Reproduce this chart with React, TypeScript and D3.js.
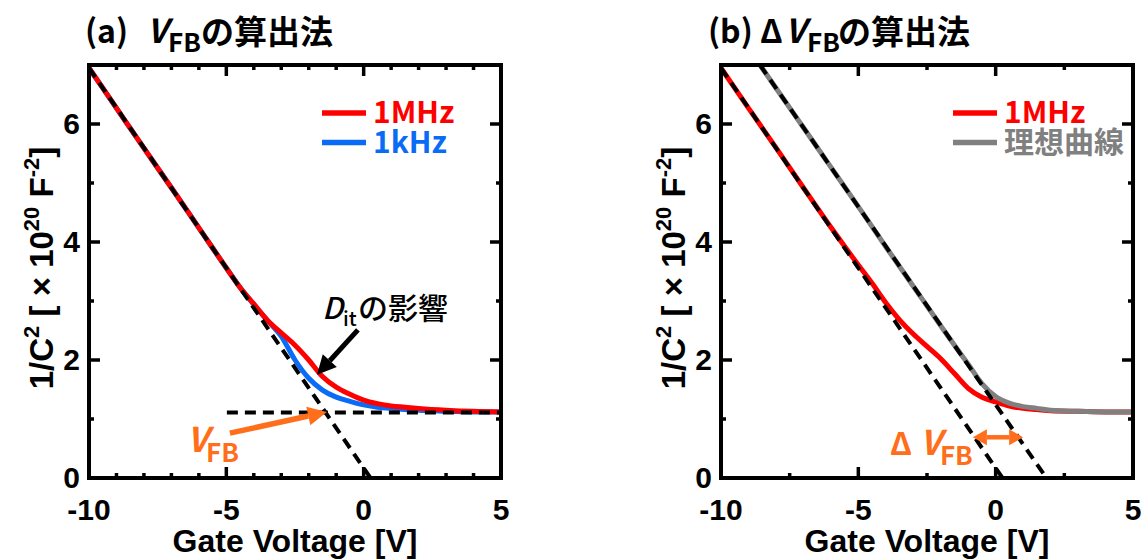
import * as d3 from "d3";

// Gate voltage grid shared by the measured curves
const VOLTS = [-10, -9, -8, -7, -6, -5, -4.5, -4, -3.5, -3, -2.5, -2, -1.5, -1, -0.5, 0, 0.5, 1, 1.5, 2, 3, 4, 5];

// (a) 1/C^2 [x1e20 F^-2]
const A_1MHZ = [6.95, 6.27, 5.59, 4.92, 4.24, 3.56, 3.23, 2.95, 2.67, 2.46, 2.25, 2.0, 1.72, 1.54, 1.42, 1.32, 1.26, 1.22, 1.2, 1.18, 1.15, 1.13, 1.12];
const A_1KHZ = [6.95, 6.27, 5.59, 4.92, 4.24, 3.56, 3.23, 2.94, 2.67, 2.4, 2.0, 1.69, 1.49, 1.37, 1.3, 1.24, 1.2, 1.18, 1.16, 1.15, 1.13, 1.12, 1.12];

// (b)
const B_1MHZ = [6.95, 6.27, 5.6, 4.92, 4.25, 3.61, 3.3, 2.97, 2.68, 2.44, 2.23, 2.02, 1.77, 1.52, 1.37, 1.29, 1.22, 1.18, 1.16, 1.14, 1.13, 1.12, 1.12];
const IDEAL_VOLTS = [-8.58, -8, -7, -6, -5, -4, -3, -2, -1.5, -1, -0.5, 0, 0.5, 1, 1.5, 2, 3, 4, 5];
const B_IDEAL = [7, 6.61, 5.94, 5.27, 4.6, 3.92, 3.25, 2.58, 2.25, 1.93, 1.6, 1.38, 1.27, 1.21, 1.18, 1.15, 1.13, 1.12, 1.12];

// fitted straight lines [[x0, y0], [x1, y1]]
const FIT_MEASURED: [number, number][] = [[-10, 6.95], [0.25, 0]];
const FIT_IDEAL: [number, number][] = [[-8.58, 7], [1.85, 0]];
const FLATBAND: [number, number][] = [[-4.98, 1.11], [5, 1.11]];

const X_TICKS = [-10, -5, 0, 5];
const Y_TICKS = [0, 2, 4, 6];
const Y_MINOR = [1, 3, 5];
const A_X_MINOR = [-9, -8, -7, -6, -4, -3, -2, -1, 1, 2, 3, 4];
const B_X_MINOR = [-7.5, -2.5, 2.5];

const RED = "#ff0000";
const BLUE = "#0a6cf5";
const GRAY = "#808080";
const ORANGE = "#ff6e1a";
const JP = "'Noto Sans CJK JP', 'Noto Sans', sans-serif";
const AR = "'Liberation Sans', Arial, sans-serif";

const W = 1148;
const H = 559;
const y = d3.scaleLinear().domain([0, 7]).range([478, 65]);

type Series = { xs: number[]; ys: number[]; color: string };

function arrowHead(x1: number, y1: number, x2: number, y2: number, len: number, half: number) {
  const a = Math.atan2(y2 - y1, x2 - x1);
  const bx = x2 - len * Math.cos(a);
  const by = y2 - len * Math.sin(a);
  const px = -Math.sin(a) * half;
  const py = Math.cos(a) * half;
  return {
    base: [bx, by] as [number, number],
    points: `${x2},${y2} ${bx + px},${by + py} ${bx - px},${by - py}`,
  };
}

function Arrow({ from, to, color, width, len, half, both }: {
  from: [number, number]; to: [number, number]; color: string; width: number; len: number; half: number; both?: boolean;
}) {
  const h1 = arrowHead(from[0], from[1], to[0], to[1], len, half);
  const h0 = arrowHead(to[0], to[1], from[0], from[1], len, half);
  const start = both ? h0.base : from;
  return (
    <g>
      <line x1={start[0]} y1={start[1]} x2={h1.base[0]} y2={h1.base[1]} stroke={color} strokeWidth={width} />
      <polygon points={h1.points} fill={color} />
      {both && <polygon points={h0.points} fill={color} />}
    </g>
  );
}

function Frame({ x, minor, id }: { x: d3.ScaleLinear<number, number>; minor: number[]; id: string }) {
  const [x0, x1] = x.range();
  const [yb, yt] = y.range();
  const major = 11;
  const small = 5;
  return (
    <g stroke="#000" strokeWidth={3.5}>
      {X_TICKS.map((t) => (
        <g key={id + "xM" + t}>
          <line x1={x(t)} x2={x(t)} y1={yb} y2={yb - major} />
          <line x1={x(t)} x2={x(t)} y1={yt} y2={yt + major} />
        </g>
      ))}
      {minor.map((t) => (
        <g key={id + "xm" + t}>
          <line x1={x(t)} x2={x(t)} y1={yb} y2={yb - small} />
          <line x1={x(t)} x2={x(t)} y1={yt} y2={yt + small} />
        </g>
      ))}
      {Y_TICKS.map((t) => (
        <g key={id + "yM" + t}>
          <line x1={x0} x2={x0 + major} y1={y(t)} y2={y(t)} />
          <line x1={x1} x2={x1 - major} y1={y(t)} y2={y(t)} />
        </g>
      ))}
      {Y_MINOR.map((t) => (
        <g key={id + "ym" + t}>
          <line x1={x0} x2={x0 + small} y1={y(t)} y2={y(t)} />
          <line x1={x1} x2={x1 - small} y1={y(t)} y2={y(t)} />
        </g>
      ))}
      <rect x={x0} y={yt} width={x1 - x0} height={yb - yt} fill="none" strokeWidth={4} />
    </g>
  );
}

function TickLabels({ x }: { x: d3.ScaleLinear<number, number> }) {
  const [x0, x1] = x.range();
  return (
    <g fontFamily={AR} fontWeight={700} fontSize={30} fill="#000">
      {X_TICKS.map((t) => (
        <text key={"xl" + t} x={x(t)} y={520} textAnchor="middle">{t}</text>
      ))}
      {Y_TICKS.map((t) => (
        <text key={"yl" + t} x={x0 - 9} y={y(t) + 10} textAnchor="end">{t}</text>
      ))}
      <text x={(x0 + x1) / 2} y={552} textAnchor="middle" fontSize={32}>Gate Voltage [V]</text>
      <text transform={`translate(${x0 - 36},268) rotate(-90)`} textAnchor="middle" fontSize={33}>
        <tspan>1/C</tspan>
        <tspan fontSize={22} dy={-14}>2</tspan>
        <tspan dy={14}> [ × 10</tspan>
        <tspan fontSize={22} dy={-14}>20</tspan>
        <tspan dy={14}> F</tspan>
        <tspan fontSize={22} dy={-14}>-2</tspan>
        <tspan dy={14}>]</tspan>
      </text>
    </g>
  );
}

function Curves({ x, series, fits, clip }: {
  x: d3.ScaleLinear<number, number>; series: Series[]; fits: [number, number][][]; clip: string;
}) {
  const line = d3
    .line<[number, number]>()
    .x((d) => x(d[0]))
    .y((d) => y(d[1]))
    .curve(d3.curveMonotoneX);
  const straight = d3.line<[number, number]>().x((d) => x(d[0])).y((d) => y(d[1]));
  return (
    <g clipPath={`url(#${clip})`}>
      {series.map((s, i) => (
        <path
          key={i}
          d={line(s.xs.map((v, j) => [v, s.ys[j]] as [number, number])) ?? ""}
          fill="none"
          stroke={s.color}
          strokeWidth={5}
          strokeLinejoin="round"
        />
      ))}
      {fits.map((f, i) => (
        <path key={"f" + i} d={straight(f) ?? ""} fill="none" stroke="#000" strokeWidth={4} strokeDasharray="11 7" />
      ))}
    </g>
  );
}

// one text element holding both entries so the rows sit tight like the original
function Legend({ x0, items }: { x0: number; items: { label: string; color: string }[] }) {
  const step = 29.5;
  return (
    <g>
      {items.map((it, i) => (
        <line key={it.label} x1={x0} x2={x0 + 44} y1={113 + i * step} y2={113 + i * step} stroke={it.color} strokeWidth={5.5} />
      ))}
      <text fontFamily={JP} fontWeight={700} fontSize={30}>
        {items.map((it, i) => (
          <tspan key={it.label} x={x0 + 51} y={123 + i * step} fill={it.color}>{it.label}</tspan>
        ))}
      </text>
    </g>
  );
}

export default function App() {
  const xa = d3.scaleLinear().domain([-10, 5]).range([89, 501]);
  const xb = d3.scaleLinear().domain([-10, 5]).range([721, 1133]);
  const [yb, yt] = y.range();

  const ditFrom: [number, number] = [xa(-0.21), y(2.51)];
  const ditTo: [number, number] = [xa(-1.7), y(1.75)];
  const vfbFrom: [number, number] = [xa(-4.87), y(0.76)];
  const vfbTo: [number, number] = [xa(-1.34), y(1.12)];
  const dvFrom: [number, number] = [xb(-0.83), y(0.69)];
  const dvTo: [number, number] = [xb(1.0), y(0.69)];

  return (
    <div style={{ position: "fixed", left: 0, top: 0, width: W, height: H, background: "#fff" }}>
      <svg width={W} height={H} viewBox={`0 0 ${W} ${H}`} style={{ display: "block" }}>
        <defs>
          <clipPath id="clipA">
            <rect x={89} y={yt} width={412} height={yb - yt} />
          </clipPath>
          <clipPath id="clipB">
            <rect x={721} y={yt} width={412} height={yb - yt} />
          </clipPath>
        </defs>

        {/* titles */}
        <g fontFamily={JP} fontWeight={700} fill="#000">
          <text x={85} y={43} fontSize={32}>(a)</text>
          <text x={147} y={43} fontSize={33} fontStyle="italic">V</text>
          <text x={168} y={52} fontSize={26}>FB</text>
          <text x={201} y={44} fontSize={33}>の算出法</text>

          <text x={708} y={43} fontSize={32}>(b)</text>
          <text x={760} y={43} fontSize={32}>Δ</text>
          <text x={785} y={43} fontSize={33} fontStyle="italic">V</text>
          <text x={807} y={52} fontSize={26}>FB</text>
          <text x={838} y={44} fontSize={33}>の算出法</text>
        </g>

        {/* panel (a) */}
        <Curves
          x={xa}
          clip="clipA"
          series={[
            { xs: VOLTS, ys: A_1KHZ, color: BLUE },
            { xs: VOLTS, ys: A_1MHZ, color: RED },
          ]}
          fits={[FIT_MEASURED, FLATBAND]}
        />
        <Frame x={xa} minor={A_X_MINOR} id="a" />
        <TickLabels x={xa} />
        <Legend x0={322} items={[{ label: "1MHz", color: RED }, { label: "1kHz", color: BLUE }]} />

        <Arrow from={ditFrom} to={ditTo} color="#000" width={5} len={19} half={9.5} />
        <g fontFamily={JP} fill="#000">
          <text x={xa(-1.52)} y={y(2.69)} fontSize={30} fontStyle="italic" fontWeight={500}>D</text>
          <text x={xa(-1.52) + 21} y={y(2.69) + 7} fontSize={20} fontWeight={500}>it</text>
          <text x={xa(-1.52) + 36} y={y(2.69)} fontSize={30} fontWeight={500}>の影響</text>
        </g>

        <Arrow from={vfbFrom} to={vfbTo} color={ORANGE} width={5.5} len={19} half={9.5} />
        <g fontFamily={JP} fontWeight={700} fill={ORANGE}>
          <text x={xa(-6.43)} y={y(0.44)} fontSize={34} fontStyle="italic">V</text>
          <text x={xa(-6.43) + 19} y={y(0.44) + 10} fontSize={26}>FB</text>
        </g>

        {/* panel (b) */}
        <Curves
          x={xb}
          clip="clipB"
          series={[
            { xs: VOLTS, ys: B_1MHZ, color: RED },
            { xs: IDEAL_VOLTS, ys: B_IDEAL, color: GRAY },
          ]}
          fits={[FIT_MEASURED, FIT_IDEAL]}
        />
        <Frame x={xb} minor={B_X_MINOR} id="b" />
        <TickLabels x={xb} />
        <Legend x0={953} items={[{ label: "1MHz", color: RED }, { label: "理想曲線", color: GRAY }]} />

        <Arrow from={dvFrom} to={dvTo} color={ORANGE} width={4.5} len={14} half={8} both />
        <g fontFamily={JP} fontWeight={700} fill={ORANGE}>
          <text x={xb(-3.85)} y={y(0.39)} fontSize={31}>Δ</text>
          <text x={xb(-3.85) + 30} y={y(0.39)} fontSize={34} fontStyle="italic">V</text>
          <text x={xb(-3.85) + 50} y={y(0.39) + 10} fontSize={26}>FB</text>
        </g>
      </svg>
    </div>
  );
}
